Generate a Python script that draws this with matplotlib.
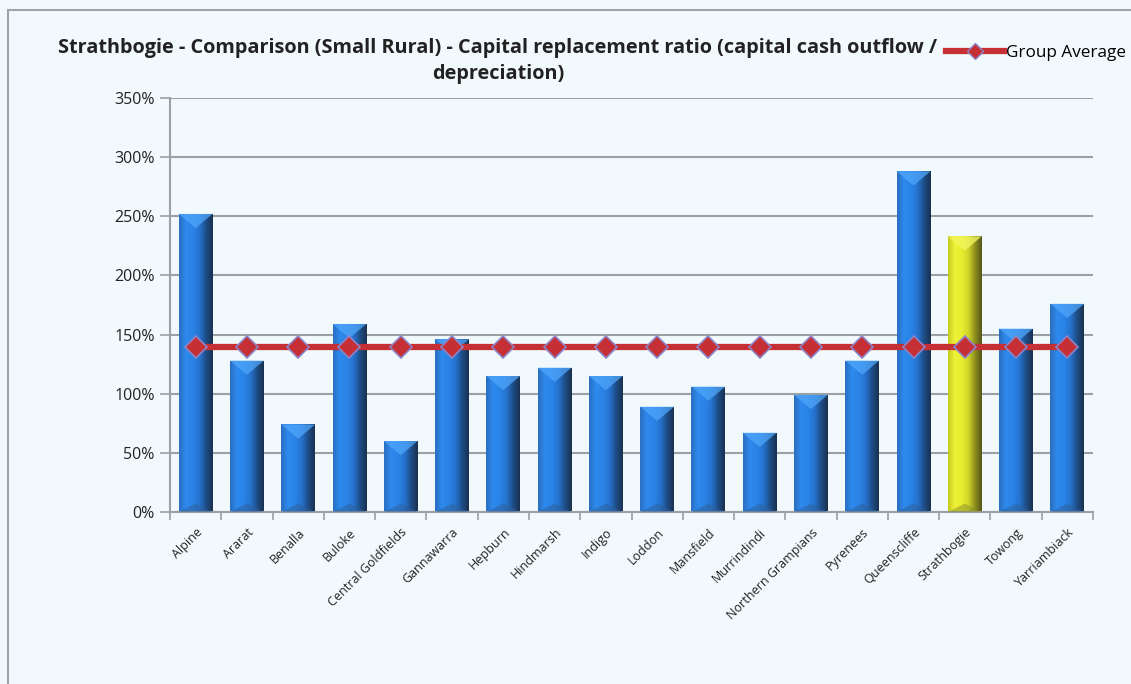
import matplotlib
matplotlib.use("Agg")
import matplotlib.pyplot as plt
import numpy as np
from matplotlib.patches import Rectangle, Polygon
from matplotlib.lines import Line2D
from matplotlib.colors import LinearSegmentedColormap

categories = ["Alpine", "Ararat", "Benalla", "Buloke", "Central Goldfields", "Gannawarra",
              "Hepburn", "Hindmarsh", "Indigo", "Loddon", "Mansfield", "Murrindindi",
              "Northern Grampians", "Pyrenees", "Queenscliffe", "Strathbogie", "Towong",
              "Yarriambiack"]
values = [252, 128, 74, 159, 60, 146, 115, 122, 115, 89, 106, 67, 99, 128, 288, 233, 155, 176]
group_average = [139.5] * len(categories)
highlight = "Strathbogie"
yticks = [0, 50, 100, 150, 200, 250, 300, 350]
title = "Strathbogie - Comparison (Small Rural) - Capital replacement ratio (capital cash outflow /\ndepreciation)"

W, H = 1131, 684
bg = "#F2F9FC"
fig = plt.figure(figsize=(W / 100, H / 100), dpi=100, facecolor=bg)
ax = fig.add_axes([170 / W, 1 - 512 / H, (1093 - 170) / W, (512 - 98) / H])
ax.set_facecolor(bg)

# frame around chart area
fig.add_artist(Rectangle((8 / W, -0.1), 1.2, 1 - 10 / H + 0.1, transform=fig.transFigure,
                         facecolor="none", edgecolor="#A0A4A8", linewidth=1.5))

x = np.arange(len(categories))
blue_cmap = LinearSegmentedColormap.from_list("b", ["#2A6FC0", "#2F8AEE", "#2A84E8", "#2674D0", "#1E4E88", "#1A3150"])
yel_cmap = LinearSegmentedColormap.from_list("y", ["#C8CC20", "#EEF238", "#E8EE30", "#D0D62A", "#8E901C", "#55561A"])
grad = np.linspace(0, 1, 64).reshape(1, -1)

bars = ax.bar(x, values, width=0.66, color="none", edgecolor="none", zorder=2)
bevel = 12.0  # bevel depth in data units
for b, cat in zip(bars, categories):
    hl = cat == highlight
    cmap = yel_cmap if hl else blue_cmap
    x0, w, h = b.get_x(), b.get_width(), b.get_height()
    im = ax.imshow(grad, cmap=cmap, aspect="auto", zorder=2, extent=[x0, x0 + w, 0, h])
    im.set_clip_path(b)
    top_col = "#F4F860" if hl else "#4FA6FA"
    ax.add_patch(Polygon([[x0, h], [x0 + w, h], [x0 + w / 2, h - bevel]], closed=True,
                         facecolor=top_col, edgecolor="none", alpha=0.75, zorder=3))
    bot_col = "#8A8E2A" if hl else "#2F5F98"
    ax.add_patch(Polygon([[x0, 0], [x0 + w, 0], [x0 + w / 2, bevel * 0.6]], closed=True,
                         facecolor=bot_col, edgecolor="none", alpha=0.5, zorder=3))

ax.plot(x, group_average, color="#C62F33", linewidth=4.5, marker="D", markersize=11.5,
        markerfacecolor="#C62F33", markeredgecolor="#8C84C8", markeredgewidth=1.2, zorder=4)

ax.set_xlim(-0.5, len(categories) - 0.5)
ax.set_ylim(0, 350)
ax.set_yticks(yticks)
ax.set_yticklabels([f"{t}%" for t in yticks], fontsize=11.5, color="#222222", family="Open Sans")
ax.yaxis.grid(True, color="#9AA0A4", linewidth=1.5, zorder=0)
ax.set_axisbelow(True)
ax.tick_params(axis="y", length=7, width=1.2, color="#9AA0A4", pad=4)

ax.set_xticks(x)
ax.set_xticklabels(categories, rotation=45, ha="right", rotation_mode="anchor",
                   fontsize=9, color="#222222", family="Open Sans")
ax.tick_params(axis="x", which="major", length=0, pad=10)
ax.set_xticks(np.arange(-0.5, len(categories), 1), minor=True)
ax.tick_params(axis="x", which="minor", length=6, width=1.2, color="#9AA0A4")

for s in ["top", "right"]:
    ax.spines[s].set_visible(False)
for s in ["left", "bottom"]:
    ax.spines[s].set_color("#9AA0A4")
    ax.spines[s].set_linewidth(1.5)

fig.text(498 / W, 1 - 61 / H, title, ha="center", va="center", fontsize=14.3,
         fontweight="bold", family="Open Sans", color="#222222", linespacing=1.45)

handle = Line2D([], [], color="#C62F33", linewidth=4.5, marker="D", markersize=8,
                markerfacecolor="#C62F33", markeredgecolor="#8C84C8")
fig.legend([handle], ["Group Average"], loc="center left", bbox_to_anchor=(946 / W, 1 - 53 / H),
           frameon=False, prop={"family": "Open Sans", "size": 12.3}, handlelength=3.4,
           handletextpad=0.1, borderpad=0, borderaxespad=0)

fig.savefig("out.png", dpi=100, facecolor=bg)
